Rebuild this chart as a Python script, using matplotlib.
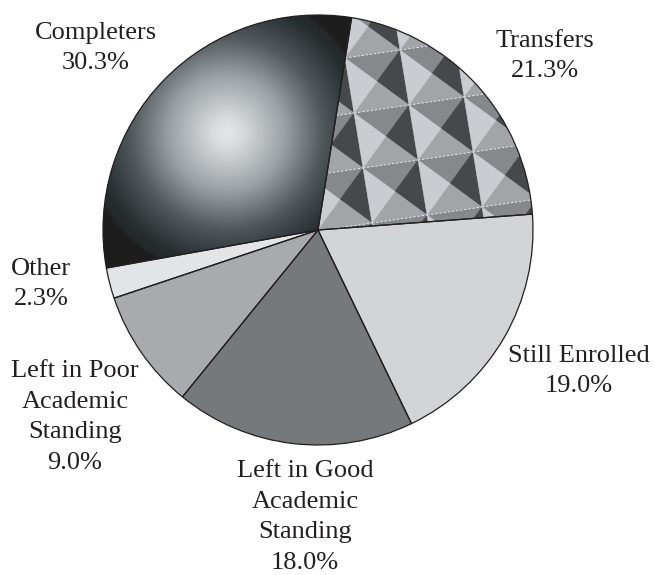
import numpy as np
import matplotlib
matplotlib.use('Agg')
import matplotlib.pyplot as plt
from matplotlib.patches import Polygon, Wedge
from matplotlib.colors import LinearSegmentedColormap

# slices, clockwise from the top
categories = ['Transfers', 'Still Enrolled', 'Left in Good\nAcademic\nStanding',
              'Left in Poor\nAcademic\nStanding', 'Other', 'Completers']
shares = [21.3, 19.0, 18.0, 9.0, 2.3, 30.3]

W, H = 655, 575
INK = '#231f20'
slice_colors = ['#8a8d90', '#d3d4d6', '#76797c', '#a9aaad', '#e3e4e6', '#1f1d1e']
# label block centres in pixel coords (y downwards)
label_pos = [(545, 56), (579, 371), (305, 517), (75, 417), (41, 284), (96, 48)]


def px(x, y):
    return x, H - y


fig = plt.figure(figsize=(W / 100, H / 100), dpi=100)
fig.set_facecolor('white')
ax = fig.add_axes([0, 0, 1, 1])

cx, cy = px(318, 230)
R = 215
wedges, _ = ax.pie(shares, startangle=81, counterclock=False, center=(cx, cy),
                   radius=R, colors=slice_colors,
                   wedgeprops=dict(edgecolor='none', linewidth=0))
ax.set_xlim(0, W)
ax.set_ylim(0, H)
ax.set_aspect('equal')
ax.axis('off')

# Completers: shaded sphere look
comp = wedges[5]
hx, hy = px(227, 133)
xs = np.linspace(90, 370, 560)
ys = np.linspace(H - 280, H - 5, 550)
XX, YY = np.meshgrid(xs, ys)
d = np.hypot(XX - hx, YY - hy)
v = np.interp(d, [0, 15, 60, 100, 130, 141, 144],
              [0.95, 0.9, 0.63, 0.37, 0.21, 0.17, 0.08])
cmap = LinearSegmentedColormap.from_list(
    'sphere', [(0.0, '#1f1d1e'), (0.08, '#1f1d1e'), (0.2, '#262d2f'),
               (0.4, '#525a5e'), (0.65, '#9ca2a6'), (1.0, '#f0f2f4')])
im = ax.imshow(v, cmap=cmap, vmin=0, vmax=1, origin='lower',
               extent=(xs[0], xs[-1], ys[0], ys[-1]), interpolation='bilinear',
               zorder=2)
im.set_clip_path(comp)

# Transfers: pyramid tile pattern
trans = wedges[0]
ox, oy = px(345, 58)
u = np.array([55.0, 8.0])
w = np.array([9.0, -55.0])
tri_cols = ['#86898c', '#45494c', '#a2a5a8', '#c9ccd0']  # top, right, bottom, left
for i in range(-3, 7):
    for j in range(-3, 7):
        tl = np.array([ox, oy]) + i * u + j * w
        tr = tl + u
        bl = tl + w
        br = tl + u + w
        c = tl + (u + w) / 2
        for pts, col in zip([(tl, tr, c), (tr, br, c), (bl, br, c), (tl, bl, c)], tri_cols):
            p = Polygon(pts, closed=True, facecolor=col, edgecolor=col,
                        linewidth=0.3, zorder=2)
            ax.add_patch(p)
            p.set_clip_path(trans)
        ln, = ax.plot([tl[0], tr[0]], [tl[1], tr[1]], color='white', lw=0.6,
                      ls=(0, (3, 2)), alpha=0.9, zorder=3)
        ln.set_clip_path(trans)

# outlines on top
for wd in wedges:
    ax.add_patch(Wedge((cx, cy), R, wd.theta1, wd.theta2, fill=False,
                       edgecolor=INK, linewidth=0.9, zorder=5))

for name, share, (lx, ly) in zip(categories, shares, label_pos):
    x, y = px(lx, ly)
    ax.text(x, y, f'{name}\n{share:.1f}%', ha='center', va='center',
            fontsize=19, family='Liberation Serif', color=INK, linespacing=1.52)

fig.savefig('out.png', dpi=100, facecolor='white')
